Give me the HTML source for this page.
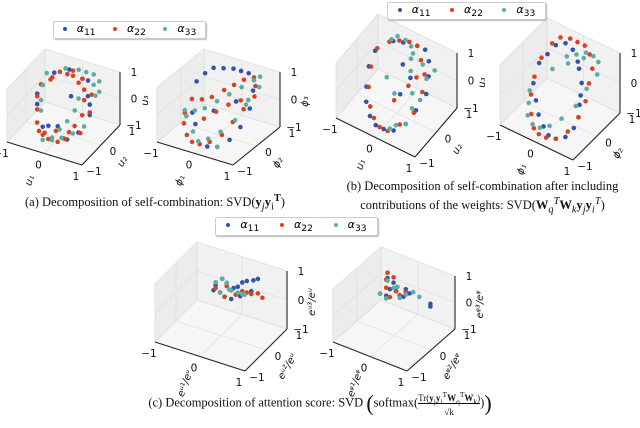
<!DOCTYPE html>
<html><head><meta charset="utf-8"><style>
body{margin:0;background:#fff;width:640px;height:428px;overflow:hidden;font-family:"Liberation Serif",serif}
svg{position:absolute;left:0;top:0}
.cap{position:absolute;font-family:"Liberation Serif",serif;font-size:12.5px;color:#111;white-space:nowrap;text-align:center}
.leg{position:absolute;border:1px solid #ccc;background:#fff;box-shadow:1px 1px 1px #bbb;font-family:"DejaVu Sans",sans-serif;font-size:11px;display:flex;align-items:center;justify-content:space-around;border-radius:2px}
.leg span i{display:inline-block;width:4px;height:4px;border-radius:50%;margin-right:10px;vertical-align:middle}
</style></head><body>
<svg id="chart" width="640" height="428"></svg>

<div class="leg" style="left:53px;top:21px;width:151px;height:16px">
<span><i style="background:#2f54a8"></i><em>α</em><sub>11</sub></span>
<span><i style="background:#d8431f"></i><em>α</em><sub>22</sub></span>
<span><i style="background:#5aada2"></i><em>α</em><sub>33</sub></span></div>
<div class="leg" style="left:387px;top:2px;width:157px;height:16px">
<span><i style="background:#2f54a8"></i><em>α</em><sub>11</sub></span>
<span><i style="background:#d8431f"></i><em>α</em><sub>22</sub></span>
<span><i style="background:#5aada2"></i><em>α</em><sub>33</sub></span></div>
<div class="leg" style="left:215px;top:217px;width:161px;height:17px">
<span><i style="background:#2f54a8"></i><em>α</em><sub>11</sub></span>
<span><i style="background:#d8431f"></i><em>α</em><sub>22</sub></span>
<span><i style="background:#5aada2"></i><em>α</em><sub>33</sub></span></div>

<div class="cap" style="left:5px;top:193px;width:300px">(a) Decomposition of self-combination: SVD(<b>y</b><sub><i>j</i></sub><b>y</b><sub>i</sub><sup><b>T</b></sup>)</div>
<div class="cap" style="left:325px;top:178px;width:315px;line-height:16px">(b) Decomposition of self-combination after including<br>contributions of the weights: SVD(<b>W</b><sub><i>q</i></sub><sup><i>T</i></sup><b>W</b><sub><i>k</i></sub><b>y</b><sub><i>j</i></sub><b>y</b><sub><i>i</i></sub><sup><i>T</i></sup>)</div>
<div class="cap" style="left:100px;top:390px;width:440px">(c) Decomposition of attention score: SVD <span style="font-size:22px;vertical-align:middle">(</span>softmax(<span style="display:inline-block;vertical-align:middle;font-size:9px;text-align:center;line-height:10px"><span style="border-bottom:1px solid #111">Tr(<b>y</b><sub>j</sub><b>y</b><sub>i</sub><sup>T</sup><b>W</b><sub>q</sub><sup>T</sup><b>W</b><sub>k</sub>)</span><br>√k</span>)<span style="font-size:22px;vertical-align:middle">)</span></div>

<script>
// ---- data (x, y, z per series per panel) ----
const aL_blue_x=[-0.7,-0.5,-0.2,0.2,0.5,0.7,0.6,0.4,-0.3,0.1,-0.6,0.3,0.0,0.6,-0.1];
const aL_blue_y=[0.0,0.5,0.7,0.6,0.3,0.0,-0.4,-0.6,-0.5,0.2,-0.2,0.7,-0.3,0.2,-0.6];
const aL_blue_z=[0.2,0.7,0.8,0.7,0.4,0.0,-0.4,-0.6,-0.5,0.3,0.0,0.6,-0.5,0.2,-0.3];
const aL_red_x=[-0.7,-0.7,-0.6,-0.5,-0.4,-0.3,-0.5,-0.6,-0.2,0.0,0.2,0.4,0.5,0.6,0.5,0.4,0.3,0.2,-0.1,-0.3,0.0,0.3,0.6,0.7,0.6,-0.4,-0.1,0.2];
const aL_red_y=[0.2,0.0,-0.2,-0.4,-0.5,-0.4,0.4,0.5,0.6,0.5,0.4,0.3,0.1,-0.2,-0.4,-0.5,-0.6,-0.7,-0.6,-0.5,-0.4,-0.5,-0.3,0.0,0.3,0.6,0.7,0.6];
const aL_red_z=[0.4,0.1,-0.2,-0.5,-0.7,-0.8,0.6,0.4,0.7,0.8,0.7,0.6,0.4,0.1,-0.2,-0.4,-0.6,-0.7,-0.8,-0.8,-0.6,-0.7,-0.5,0.1,0.5,0.7,0.8,0.7];
const aL_teal_x=[-0.7,-0.7,-0.6,-0.5,-0.3,0.0,0.2,0.4,0.6,0.7,0.6,0.4,0.2,0.0,-0.2,0.3,0.3,0.2,0.1,0.0,0.5,0.7];
const aL_teal_y=[0.5,0.3,0.0,-0.2,0.7,0.8,0.8,0.8,0.7,0.5,-0.1,-0.3,-0.5,-0.6,-0.7,0.2,0.0,-0.2,-0.4,-0.6,0.6,0.3];
const aL_teal_z=[0.6,0.3,0.0,-0.2,0.8,0.8,0.8,0.8,0.7,0.5,-0.4,-0.6,-0.7,-0.8,-0.8,0.3,0.0,-0.3,-0.5,-0.7,0.6,0.5];

const aR_blue_x=[-0.7,-0.6,-0.5,-0.3,-0.1,0.1,0.3,0.5,0.6,0.7,0.7,0.6,0.4,0.2,-0.5,-0.3,0.0,0.4];
const aR_blue_y=[0.2,0.4,0.6,0.7,0.8,0.8,0.8,0.7,0.5,0.2,-0.2,-0.5,-0.7,-0.8,-0.3,-0.5,-0.2,0.1];
const aR_blue_z=[0.5,0.7,0.8,0.8,0.8,0.8,0.8,0.7,0.5,0.1,-0.3,-0.6,-0.8,-0.8,-0.2,-0.4,0.0,0.3];
const aR_red_x=[-0.7,-0.7,-0.6,-0.4,-0.2,0.0,0.2,0.4,0.5,0.6,0.7,0.6,0.5,0.3,0.1,-0.1,-0.3,-0.5,0.2,0.0,-0.2,0.4];
const aR_red_y=[0.0,-0.3,-0.5,-0.7,-0.8,-0.8,-0.7,-0.5,-0.2,0.1,0.4,0.6,0.7,0.6,0.5,0.4,0.2,0.1,0.1,-0.1,-0.3,0.3];
const aR_red_z=[0.0,-0.3,-0.5,-0.7,-0.8,-0.8,-0.7,-0.5,-0.2,0.1,0.4,0.6,0.8,0.7,0.5,0.3,0.1,0.0,0.1,-0.1,-0.3,0.2];
const aR_teal_x=[-0.7,-0.5,-0.3,-0.1,0.1,0.3,0.5,0.6,0.7,0.6,0.5,0.3,0.1,-0.1,-0.3,0.6,0.4,-0.6];
const aR_teal_y=[-0.3,-0.2,-0.1,0.1,0.3,0.5,0.7,0.8,0.6,0.3,-0.1,-0.4,-0.6,-0.7,-0.6,0.2,-0.7,-0.4];
const aR_teal_z=[-0.2,-0.2,-0.1,0.1,0.3,0.5,0.7,0.8,0.6,0.3,-0.2,-0.5,-0.7,-0.8,-0.6,0.2,-0.8,-0.3];

const bL_blue_x=[-0.7,-0.7,-0.6,-0.5,-0.3,-0.1,0.1,0.3,0.5,0.6,0.7,0.6,0.5,0.3,0.1,-0.2,-0.4,0.2,0.0,0.3];
const bL_blue_y=[0.3,0.0,-0.3,-0.5,-0.7,-0.8,-0.8,-0.7,-0.5,-0.2,0.1,0.4,0.6,0.8,0.8,0.7,0.6,-0.2,0.3,0.1];
const bL_blue_z=[0.5,0.2,-0.2,-0.5,-0.7,-0.8,-0.8,-0.8,-0.6,-0.3,0.1,0.4,0.7,0.8,0.8,0.8,0.8,0.0,0.5,0.4];
const bL_red_x=[-0.7,-0.7,-0.6,-0.4,-0.2,0.0,0.2,0.4,0.6,0.6,0.5,0.3,0.1,-0.1,-0.3,-0.5,0.1,0.3,0.4];
const bL_red_y=[0.4,0.1,-0.2,-0.5,-0.7,-0.8,-0.8,-0.6,-0.3,0.1,0.4,0.6,0.8,0.8,0.7,0.6,-0.3,0.0,0.2];
const bL_red_z=[0.5,0.1,-0.3,-0.6,-0.7,-0.8,-0.8,-0.6,-0.3,0.1,0.4,0.6,0.8,0.8,0.8,0.7,-0.2,0.2,0.4];
const bL_teal_x=[-0.5,-0.4,-0.2,0.0,0.1,0.2,0.4,0.5,0.6,0.7,0.5,0.3,0.2,0.0,-0.3,0.1,0.4,0.6];
const bL_teal_y=[0.7,0.8,0.8,0.7,0.5,0.3,0.0,-0.2,0.3,0.5,-0.5,-0.6,-0.7,-0.1,0.1,0.6,0.5,0.0];
const bL_teal_z=[0.7,0.8,0.8,0.8,0.6,0.4,0.0,-0.3,0.4,0.6,-0.6,-0.7,-0.8,-0.2,0.0,0.7,0.6,-0.1];

const bR_blue_x=[-0.7,-0.6,-0.5,-0.3,-0.1,0.1,0.2,0.4,0.5,0.6,0.7,0.7,0.6,0.4,0.2,0.0,-0.2,-0.4,-0.6];
const bR_blue_y=[0.2,0.4,0.6,0.7,0.7,0.6,0.5,0.3,0.1,-0.1,-0.3,-0.5,-0.7,-0.8,-0.8,-0.7,-0.6,-0.4,-0.2];
const bR_blue_z=[0.3,0.5,0.7,0.8,0.7,0.5,0.4,0.2,0.0,-0.1,-0.3,-0.5,-0.7,-0.8,-0.8,-0.7,-0.5,-0.3,0.0];
const bR_red_x=[-0.7,-0.7,-0.6,-0.5,-0.3,-0.1,0.1,0.3,0.5,0.6,0.7,0.7,0.6,0.4,0.2,0.0,-0.2,-0.4,-0.6];
const bR_red_y=[0.0,0.3,0.6,0.8,0.9,0.9,0.9,0.8,0.6,0.3,0.0,-0.3,-0.6,-0.8,-0.9,-0.9,-0.8,-0.6,-0.3];
const bR_red_z=[0.0,0.4,0.7,0.8,0.8,0.8,0.8,0.7,0.5,0.3,0.0,-0.3,-0.6,-0.8,-0.8,-0.8,-0.8,-0.6,-0.3];
const bR_teal_x=[-0.7,-0.6,-0.5,-0.3,-0.1,0.1,0.3,0.5,0.6,0.7,0.6,0.4,0.2,0.0,-0.2,-0.4,-0.1,0.2];
const bR_teal_y=[-0.2,-0.4,-0.6,-0.7,-0.7,-0.6,-0.4,-0.1,0.2,0.5,0.7,0.8,0.8,0.7,0.6,0.3,0.5,0.7];
const bR_teal_z=[-0.3,-0.5,-0.7,-0.8,-0.8,-0.7,-0.5,-0.2,0.2,0.5,0.7,0.7,0.7,0.6,0.5,0.2,0.4,0.6];

const cL_blue_x=[-0.4,-0.3,-0.2,-0.1,0.0,0.1,0.2,0.3,0.4,-0.2,-0.4,-0.1,0.1,0.0,-0.3,0.3];
const cL_blue_y=[0.6,0.6,0.7,0.7,0.8,0.8,0.8,0.9,0.9,0.6,0.5,0.7,0.7,0.6,0.7,0.8];
const cL_blue_z=[0.1,-0.1,0.2,0.0,0.1,0.3,0.4,0.4,0.5,-0.2,0.0,-0.3,-0.1,0.2,0.3,0.1];
const cL_red_x=[-0.4,-0.3,-0.2,-0.1,0.1,0.2,0.3,0.4,0.5,-0.2,0.0];
const cL_red_y=[0.6,0.6,0.7,0.7,0.8,0.8,0.8,0.9,0.9,0.6,0.7];
const cL_red_z=[0.0,-0.1,0.1,0.0,0.0,0.0,0.0,0.0,-0.1,-0.2,-0.1];
const cL_teal_x=[-0.4,-0.3,-0.2,-0.1,0.0,0.1,-0.1,-0.3,0.2];
const cL_teal_y=[0.6,0.6,0.7,0.7,0.8,0.8,0.6,0.7,0.7];
const cL_teal_z=[0.2,-0.1,0.2,0.0,-0.1,-0.1,0.1,0.3,0.0];

const cR_blue_x=[-0.7,-0.6,-0.5,-0.4,-0.3,-0.2,-0.1,-0.4,-0.5,0.4,0.4,-0.2,-0.3,-0.6];
const cR_blue_y=[0.5,0.6,0.6,0.7,0.7,0.8,0.8,0.6,0.5,0.9,0.9,0.7,0.6,0.6];
const cR_blue_z=[-0.2,-0.3,0.0,-0.1,-0.2,0.0,-0.1,0.3,0.5,-0.3,-0.4,-0.2,0.2,-0.4];
const cR_red_x=[-0.7,-0.6,-0.5,-0.4,-0.3,-0.2,-0.5,-0.4,-0.6];
const cR_red_y=[0.5,0.6,0.6,0.7,0.7,0.8,0.5,0.6,0.6];
const cR_red_z=[-0.2,0.0,-0.3,-0.1,-0.2,-0.1,0.7,0.5,0.3];
const cR_teal_x=[-0.7,-0.6,-0.4,-0.3,-0.2,0.0,0.1,-0.5,-0.3];
const cR_teal_y=[0.5,0.6,0.6,0.7,0.8,0.8,0.9,0.5,0.6];
const cR_teal_z=[-0.2,-0.4,0.1,-0.3,-0.2,0.0,-0.2,0.4,0.2];

const tickVals=[-1,0,1];
const tickLabels=["−1","0","1"];

const svg=document.getElementById('chart');
const NS='http://www.w3.org/2000/svg';
function mk(tag,attrs,parent){const e=document.createElementNS(NS,tag);for(const k in attrs)e.setAttribute(k,attrs[k]);(parent||svg).appendChild(e);return e;}
const COL={blue:'#2f54a8',red:'#d8431f',teal:'#5aada2'};

function panel(name,O,ex,ey,ez,labs,series){
  const g=mk('g',{});
  
  
  const P=(x,y,z)=>[O[0]+(x+1)/2*ex[0]+(y+1)/2*ey[0]+(z+1)/2*ez[0], O[1]+(x+1)/2*ex[1]+(y+1)/2*ey[1]+(z+1)/2*ez[1]];
  const poly=(pts,fill,nm)=>{const p=mk('polygon',{points:pts.map(q=>q.join(',')).join(' '),fill:fill,stroke:'#e2e2e2','stroke-width':0.6},g);};
  poly([P(-1,-1,-1),P(1,-1,-1),P(1,1,-1),P(-1,1,-1)],'#f6f6f6','floor-pane');
  poly([P(-1,-1,-1),P(-1,1,-1),P(-1,1,1),P(-1,-1,1)],'#ececec','left-pane');
  poly([P(-1,1,-1),P(1,1,-1),P(1,1,1),P(-1,1,1)],'#f1f1f1','back-pane');
  const ln=(a,b,st,w,nm)=>{const l=mk('line',{x1:a[0],y1:a[1],x2:b[0],y2:b[1],stroke:st,'stroke-width':w},g);};
  tickVals.forEach(t=>{
    ln(P(t,-1,-1),P(t,1,-1),'#dcdcdc',0.6,'grid-line');ln(P(t,1,-1),P(t,1,1),'#dcdcdc',0.6,'grid-line');
    ln(P(-1,t,-1),P(1,t,-1),'#dcdcdc',0.6,'grid-line');ln(P(-1,t,-1),P(-1,t,1),'#dcdcdc',0.6,'grid-line');
    ln(P(-1,-1,t),P(-1,1,t),'#dcdcdc',0.6,'grid-line');ln(P(-1,1,t),P(1,1,t),'#dcdcdc',0.6,'grid-line');
  });
  ln(P(-1,-1,-1),P(1,-1,-1),'#222',1.1,'x-axis');
  ln(P(1,-1,-1),P(1,1,-1),'#222',1.1,'y-axis');
  ln(P(1,1,-1),P(1,1,1),'#222',1.1,'z-axis');
  const tx=(x,y,s,nm,extra)=>{const t=mk('text',Object.assign({x:x,y:y,'font-family':'DejaVu Sans, sans-serif','font-size':10.5,fill:'#111','text-anchor':'middle'},extra||{}),g);t.textContent=s;return t;};
  tickVals.forEach((t,i)=>{
    const a=P(t,-1,-1);tx(a[0]-6,a[1]+15,tickLabels[i],'x-tick-label');
    const b=P(1,t,-1);tx(b[0]+12,b[1]+10,tickLabels[i],'y-tick-label');
    const c=P(1,1,t);tx(c[0]+14,c[1]+4,tickLabels[i],'z-tick-label');
  });
  const xl=P(0,-1,-1),yl=P(1,0,-1),zl=P(1,1,0);
  tx(xl[0]-12,xl[1]+28,labs[0],'x-axis-title',{'font-style':'italic','font-size':10,transform:`rotate(-70 ${xl[0]-12} ${xl[1]+28})`});
  tx(yl[0]+24,yl[1]+18,labs[1],'y-axis-title',{'font-style':'italic','font-size':10,transform:`rotate(-60 ${yl[0]+24} ${yl[1]+18})`});
  tx(zl[0]+28,zl[1]+2,labs[2],'z-axis-title',{'font-style':'italic','font-size':10,transform:`rotate(-90 ${zl[0]+28} ${zl[1]+2})`});
  series.forEach(s=>{
    for(let i=0;i<s.x.length;i++){
      const q=P(s.x[i],s.y[i],s.z[i]);
      const c=mk('circle',{cx:q[0],cy:q[1],r:2.3,fill:COL[s.c]},g);
      
      
    }
  });
}
function S(c,x,y,z){return {c:c,x:x,y:y,z:z};}
panel('plot-a-left',[7,142],[75,23],[38,-40],[0,-53],['u₁','u₂','u₃'],[S('blue',aL_blue_x,aL_blue_y,aL_blue_z),S('red',aL_red_x,aL_red_y,aL_red_z),S('teal',aL_teal_x,aL_teal_y,aL_teal_z)]);
panel('plot-a-right',[157,142],[76,23],[47,-38],[0,-55],['ϕ₁','ϕ₂','ϕ₃'],[S('blue',aR_blue_x,aR_blue_y,aR_blue_z),S('red',aR_red_x,aR_red_y,aR_red_z),S('teal',aR_teal_x,aR_teal_y,aR_teal_z)]);
panel('plot-b-left',[336,118],[79,39],[42,-49],[0,-55],['u₁','u₂','u₃'],[S('blue',bL_blue_x,bL_blue_y,bL_blue_z),S('red',bL_red_x,bL_red_y,bL_red_z),S('teal',bL_teal_x,bL_teal_y,bL_teal_z)]);
panel('plot-b-right',[500,125],[73,35],[47,-47],[0,-60],['ϕ₁','ϕ₂','ϕ₃'],[S('blue',bR_blue_x,bR_blue_y,bR_blue_z),S('red',bR_red_x,bR_red_y,bR_red_z),S('teal',bR_teal_x,bR_teal_y,bR_teal_z)]);
panel('plot-c-left',[155,342],[90,29],[42,-42],[0,-58],['eᵘ¹/eᵘ','eᵘ²/eᵘ','eᵘ³/eᵘ'],[S('blue',cL_blue_x,cL_blue_y,cL_blue_z),S('red',cL_red_x,cL_red_y,cL_red_z),S('teal',cL_teal_x,cL_teal_y,cL_teal_z)]);
panel('plot-c-right',[333,342],[74,29],[48,-42],[0,-53],['eᵠ¹/eᵠ','eᵠ²/eᵠ','eᵠ³/eᵠ'],[S('blue',cR_blue_x,cR_blue_y,cR_blue_z),S('red',cR_red_x,cR_red_y,cR_red_z),S('teal',cR_teal_x,cR_teal_y,cR_teal_z)]);
</script>
</body></html>
